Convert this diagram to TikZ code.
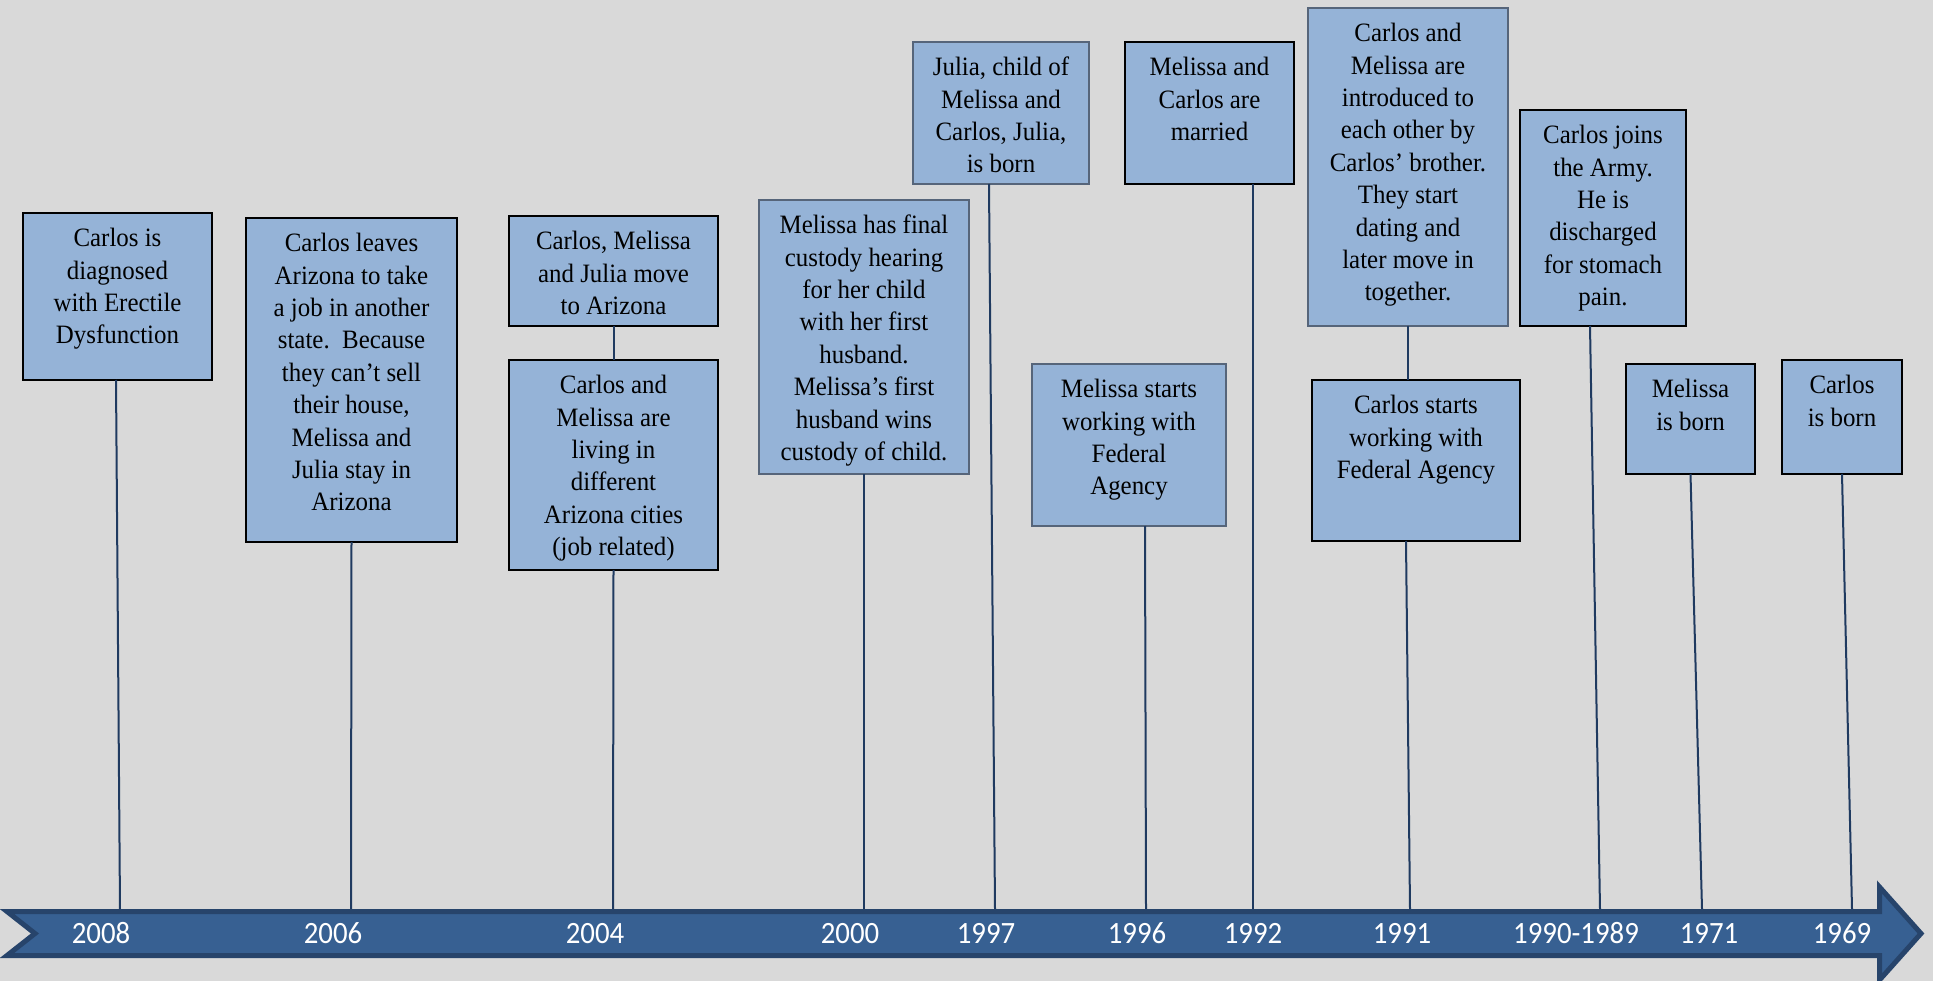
\documentclass[tikz,border=0pt]{standalone}
\usepackage{fontspec}
\newfontfamily\boxfont[FakeStretch=0.94]{Liberation Serif}
\newfontfamily\yearfont[FakeStretch=0.93]{Carlito}
\usetikzlibrary{calc}
\definecolor{bgcol}{HTML}{D9D9D9}
\definecolor{boxfill}{HTML}{95B3D7}
\definecolor{thinedge}{HTML}{56657A}
\definecolor{tickcol}{HTML}{1F3A60}
\definecolor{bandfill}{HTML}{376092}
\definecolor{bandedge}{HTML}{27446B}
\begin{document}
\begin{tikzpicture}[x=1pt,y=-1pt,
  evbox/.style={draw=black, line width=2.2pt, fill=boxfill, inner sep=0pt, outer sep=0pt, anchor=north west},
  thinbox/.style={evbox, draw=thinedge, line width=1.3pt},
  evtext/.style={anchor=north, align=center, inner sep=0pt, text=black, font=\boxfont\fontsize{26.5}{32.4}\selectfont},
  tick/.style={draw=tickcol, line width=2pt},
  band/.style={fill=bandfill, draw=bandedge, line width=5pt, line join=miter},
  year/.style={anchor=base, text=white, inner sep=0pt, font=\yearfont\fontsize{31}{31}\selectfont}]
\fill[bgcol] (0,0) rectangle (1933,981);
\useasboundingbox (0,0) rectangle (1933,981);

% boxes
\node[evbox, minimum width=189, minimum height=167] (b1) at (23,213) {};
\node[evtext] (b1t) at ([yshift=-10.8]b1.north) {\strut Carlos is\\diagnosed\\with Erectile\\Dysfunction};

\node[evbox, minimum width=211, minimum height=324] (b2) at (246,218) {};
\node[evtext] (b2t) at ([yshift=-10.8]b2.north) {\strut Carlos leaves\\Arizona to take\\a job in another\\state.\ \ Because\\they can’t sell\\their house,\\Melissa and\\Julia stay in\\Arizona};

\node[evbox, minimum width=209, minimum height=110] (b3) at (509,216) {};
\node[evtext] (b3t) at ([yshift=-10.8]b3.north) {\strut Carlos, Melissa\\and Julia move\\to Arizona};

\node[evbox, minimum width=209, minimum height=210] (b4) at (509,360) {};
\node[evtext] (b4t) at ([yshift=-10.8]b4.north) {\strut Carlos and\\Melissa are\\living in\\different\\Arizona cities\\(job related)};

\node[thinbox, minimum width=210, minimum height=274] (b5) at (759,200) {};
\node[evtext] (b5t) at ([yshift=-10.8]b5.north) {\strut Melissa has final\\custody hearing\\for her child\\with her first\\husband.\\Melissa’s first\\husband wins\\custody of child.};

\node[thinbox, minimum width=176, minimum height=142] (b6) at (913,42) {};
\node[evtext] (b6t) at ([yshift=-10.8]b6.north) {\strut Julia, child of\\Melissa and\\Carlos, Julia,\\is born};

\node[evbox, minimum width=169, minimum height=142] (b7) at (1125,42) {};
\node[evtext] (b7t) at ([yshift=-10.8]b7.north) {\strut Melissa and\\Carlos are\\married};

\node[thinbox, minimum width=200, minimum height=318] (b8) at (1308,8) {};
\node[evtext] (b8t) at ([yshift=-10.8]b8.north) {\strut Carlos and\\Melissa are\\introduced to\\each other by\\Carlos’ brother.\\They start\\dating and\\later move in\\together.};

\node[evbox, minimum width=208, minimum height=161] (b9) at (1312,380) {};
\node[evtext] (b9t) at ([yshift=-10.8]b9.north) {\strut Carlos starts\\working with\\Federal Agency};

\node[thinbox, minimum width=194, minimum height=162] (b10) at (1032,364) {};
\node[evtext] (b10t) at ([yshift=-10.8]b10.north) {\strut Melissa starts\\working with\\Federal\\Agency};

\node[evbox, minimum width=166, minimum height=216] (b11) at (1520,110) {};
\node[evtext] (b11t) at ([yshift=-10.8]b11.north) {\strut Carlos joins\\the Army.\\He is\\discharged\\for stomach\\pain.};

\node[evbox, minimum width=129, minimum height=110] (b12) at (1626,364) {};
\node[evtext] (b12t) at ([yshift=-10.8]b12.north) {\strut Melissa\\is born};

\node[evbox, minimum width=120, minimum height=114] (b13) at (1782,360) {};
\node[evtext] (b13t) at ([yshift=-10.8]b13.north) {\strut Carlos\\is born};

% tick ends on the band
\coordinate (y2008) at (120,909);
\coordinate (y2006) at (351,909);
\coordinate (y2004) at (613,909);
\coordinate (y2000) at (864,909);
\coordinate (y1997) at (995,909);
\coordinate (y1996) at (1146,909);
\coordinate (y1992) at (1253,909);
\coordinate (y1991) at (1410,909);
\coordinate (y1990) at (1600,909);
\coordinate (y1971) at (1702,909);
\coordinate (y1969) at (1852,909);

\draw[tick] ([xshift=-1.5]b1.south) -- (y2008);
\draw[tick] (b2.south) -- (y2006);
\draw[tick] (b3.south) -- (b4.north);
\draw[tick] (b4.south) -- (y2004);
\draw[tick] (b5.south) -- (y2000);
\draw[tick] ([xshift=-12]b6.south) -- (y1997);
\draw[tick] ([xshift=16]b10.south) -- (y1996);
\draw[tick] ([xshift=43.5]b7.south) -- (y1992);
\draw[tick] (b8.south) -- (b8.south |- b9.north);
\draw[tick] ([xshift=-10]b9.south) -- (y1991);
\draw[tick] ([xshift=-13]b11.south) -- (y1990);
\draw[tick] (b12.south) -- (y1971);
\draw[tick] (b13.south) -- (y1969);

% timeline arrow
\draw[band] (7,911.5) -- (1879.5,911.5) -- (1879.5,887) -- (1921,933.5) -- (1879.5,980) -- (1879.5,955.5) -- (7,955.5) -- (35,933.5) -- cycle;

\node[year] (l2008) at (101,943) {2008};
\node[year] (l2006) at (333,943) {2006};
\node[year] (l2004) at (595,943) {2004};
\node[year] (l2000) at (850,943) {2000};
\node[year] (l1997) at (986,943) {1997};
\node[year] (l1996) at (1137,943) {1996};
\node[year] (l1992) at (1253,943) {1992};
\node[year] (l1991) at (1402,943) {1991};
\node[year] (l1990) at (1576,943) {1990-1989};
\node[year] (l1971) at (1709,943) {1971};
\node[year] (l1969) at (1842,943) {1969};
\end{tikzpicture}
\end{document}
